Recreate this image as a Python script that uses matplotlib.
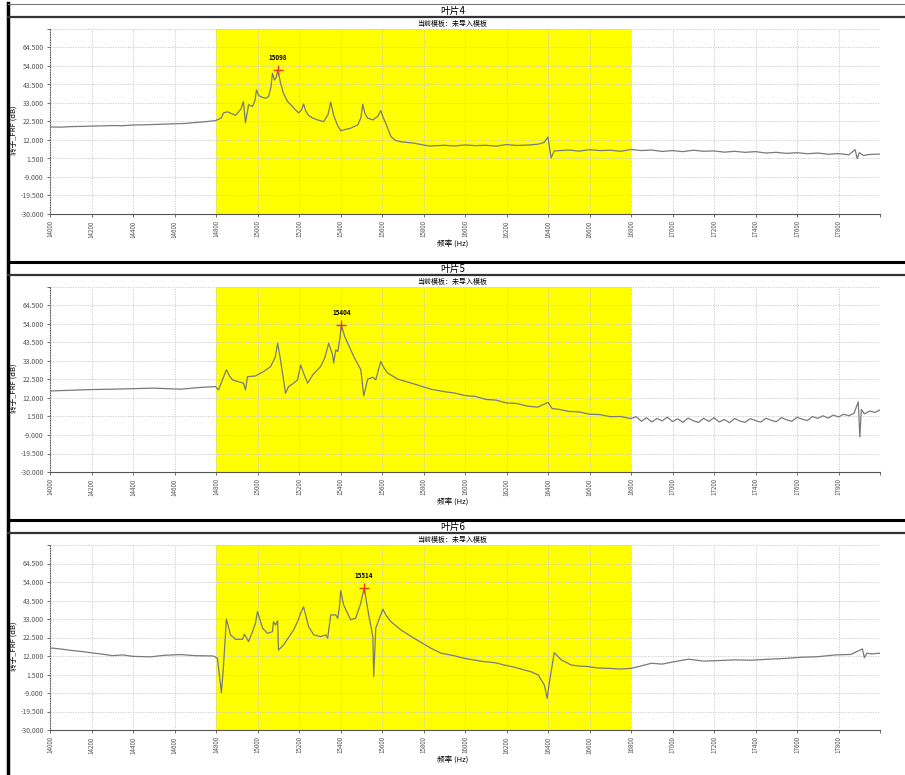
import matplotlib
matplotlib.use("Agg")
import matplotlib.pyplot as plt
from matplotlib.lines import Line2D

plt.rcParams["font.family"] = ["Noto Sans CJK SC", "DejaVu Sans"]

# --- data ----------------------------------------------------------------
TITLES = ["叶片4", "叶片5", "叶片6"]
SUBTITLE = "当前模板：未导入模板"
XLABEL = "频率 (Hz)"
YLABEL = "转子_FRF (dB)"

X_TICKS = list(range(14000, 18000, 200))
Y_TICKS = [-30.0, -19.5, -9.0, 1.5, 12.0, 22.5, 33.0, 43.5, 54.0, 64.5]
BAND = (14800, 16800)

freq_4 = [14000, 14050, 14100, 14150, 14200, 14250, 14300, 14350, 14400, 14450,
          14500, 14550, 14600, 14650, 14700, 14750, 14797, 14826,
          14836, 14855, 14894, 14920, 14932, 14942, 14957, 14976, 14988, 14995,
          15005, 15014, 15039, 15053, 15065, 15072, 15082, 15090, 15098, 15111,
          15125, 15145, 15165, 15184, 15198, 15212, 15222, 15232, 15246, 15265,
          15290, 15319, 15340, 15353, 15367, 15385, 15401, 15449, 15483, 15498,
          15507, 15518, 15531, 15556, 15580, 15594, 15605, 15618, 15643, 15665,
          15691, 15754, 15826, 15900, 15950, 16000, 16050,
          16100, 16150, 16200, 16250, 16300, 16350, 16380, 16400, 16415, 16430,
          16500, 16550, 16600, 16650, 16700, 16750, 16800, 16850, 16900, 16950,
          17000, 17050, 17100, 17150, 17200, 17250, 17300, 17350, 17400, 17450,
          17500, 17550, 17600, 17650, 17700, 17750, 17800, 17850, 17880, 17890,
          17900, 17920, 17950, 18000]
db_4 = [19.4, 19.3, 19.6, 19.7, 19.9, 20.0, 20.2, 20.1, 20.5, 20.6,
        20.8, 21.0, 21.2, 21.4, 21.9, 22.4, 23.0, 24.5,
        27.4, 28.0, 26.0, 29.5, 33.8, 21.7, 32.0, 31.0, 34.5, 40.4,
        37.5, 36.6, 35.7, 36.6, 42.0, 49.9, 46.0, 47.5, 51.8, 44.4,
        38.5, 33.8, 31.5, 29.0, 27.4, 29.0, 32.5, 28.5, 26.0, 24.5,
        23.4, 22.4, 26.5, 33.5, 26.0, 20.5, 17.3, 18.7, 20.6, 24.5,
        32.3, 27.0, 24.4, 23.4, 25.5, 28.7, 25.0, 21.5, 13.9, 11.8,
        11.0, 10.2, 8.6, 9.0, 8.6, 9.2, 8.8,
        9.0, 8.5, 9.4, 8.9, 9.1, 9.6, 10.5, 13.7, 1.8, 5.8,
        6.3, 5.7, 6.5, 6.0, 6.2, 5.6, 6.6, 6.0, 6.3, 5.5,
        6.0, 5.4, 6.2, 5.6, 5.8, 5.1, 5.6, 5.0, 5.4, 4.6,
        5.0, 4.4, 4.8, 4.2, 4.6, 3.9, 4.3, 3.6, 6.5, 1.5,
        4.8, 3.2, 3.8, 4.0]

freq_5 = [14000, 14100, 14200, 14300, 14400, 14500, 14628, 14725, 14797, 14812,
          14830, 14850, 14865, 14879, 14932, 14942, 14952, 14990, 15029, 15063,
          15085, 15097, 15111, 15135, 15150, 15174, 15193, 15208, 15222, 15242,
          15266, 15304, 15325, 15343, 15362, 15367, 15377, 15387, 15396, 15404,
          15420, 15435, 15464, 15498, 15512, 15531, 15556, 15570, 15594, 15610,
          15628, 15676, 15754, 15836, 15900, 15950, 16000,
          16050, 16100, 16150, 16200, 16250, 16300, 16350, 16400, 16420, 16450,
          16500, 16550, 16600, 16650, 16700, 16750, 16800, 16825, 16850, 16875,
          16900, 16925, 16950, 16975, 17000, 17025, 17050, 17075, 17100, 17125,
          17150, 17175, 17200, 17225, 17250, 17275, 17300, 17325, 17350, 17375,
          17400, 17425, 17450, 17475, 17500, 17525, 17550, 17575, 17600, 17625,
          17650, 17675, 17700, 17725, 17750, 17775, 17800, 17825, 17850, 17875,
          17895, 17903, 17910, 17925, 17950, 17975, 18000]
db_5 = [16.0, 16.4, 16.8, 17.0, 17.3, 17.6, 17.0, 18.0, 18.5, 16.6,
        22.0, 28.0, 24.5, 22.3, 20.4, 16.6, 24.1, 24.5, 27.0, 29.8,
        35.0, 43.1, 33.6, 14.7, 18.5, 20.4, 22.3, 30.8, 26.1, 20.4,
        25.1, 29.8, 35.0, 43.1, 36.4, 31.7, 39.3, 38.3, 45.0, 53.5,
        47.0, 43.1, 35.5, 28.0, 13.2, 22.7, 23.8, 22.3, 32.7, 29.0,
        26.1, 22.7, 20.0, 17.0, 15.6, 14.8, 13.4,
        12.9, 11.2, 10.8, 9.2, 8.9, 7.4, 6.8, 9.5, 6.0, 5.6,
        4.4, 4.1, 2.8, 2.6, 1.4, 1.5, 0.3, 1.4, -1.2, 0.8,
        -1.6, 0.4, -1.0, 1.1, -1.4, 0.2, -1.8, 0.6, -0.9, -1.9,
        0.5, -1.3, 0.8, -1.6, -0.2, -2.0, 0.4, -1.1, -1.8, 0.3,
        -0.8, -1.7, 0.5, -0.6, -1.5, 0.9, -0.4, -1.2, 1.1, 0.0,
        -0.8, 1.5, 0.4, 1.9, 0.6, 2.3, 1.2, 2.8, 1.9, 3.4,
        9.8, -10.1, 5.5, 3.0, 4.6, 3.8, 5.2]

freq_6 = [14000, 14050, 14100, 14150, 14200, 14250, 14300, 14350, 14400, 14483,
          14550, 14628, 14700, 14787, 14807, 14826, 14836, 14850, 14870, 14894,
          14928, 14937, 14957, 14976, 14990, 15000, 15024, 15048, 15072, 15077,
          15087, 15097, 15101, 15126, 15174, 15195, 15208, 15222, 15246, 15271,
          15304, 15329, 15338, 15353, 15377, 15387, 15395, 15401, 15415, 15449,
          15473, 15498, 15514, 15536, 15556, 15560, 15570, 15604, 15620, 15643,
          15691, 15754, 15836, 15884, 15950, 15995, 16050, 16092, 16150, 16188,
          16240, 16285, 16320, 16353, 16382, 16396, 16406, 16430, 16464, 16512,
          16550, 16594, 16640, 16691, 16750, 16802, 16850, 16899, 16950, 17010,
          17077, 17150, 17222, 17300, 17380, 17464, 17540, 17623, 17700, 17783,
          17860, 17915, 17925, 17937, 17960, 18000]
db_6 = [16.6, 16.0, 15.2, 14.6, 13.8, 13.1, 12.2, 12.6, 11.8, 11.5,
        12.4, 12.8, 12.2, 12.0, 10.7, -8.9, 6.1, 33.0, 24.0, 21.5,
        21.5, 24.4, 20.2, 25.8, 30.5, 37.2, 27.8, 24.9, 25.8, 31.5,
        29.6, 32.0, 15.4, 18.3, 26.8, 32.0, 36.3, 40.0, 28.7, 24.0,
        23.0, 24.0, 22.1, 35.3, 35.3, 33.4, 40.0, 49.1, 41.0, 32.5,
        33.4, 42.0, 50.7, 35.3, 23.0, 0.3, 27.8, 38.6, 35.0, 31.5,
        26.8, 22.1, 16.4, 13.6, 12.1, 10.7, 9.6, 8.8, 8.1, 6.9,
        5.6, 4.1, 3.0, 1.2, -4.4, -12.0, -3.5, 13.9, 9.8, 6.9,
        6.3, 6.0, 5.2, 5.0, 4.6, 5.0, 6.4, 7.9, 7.4, 8.8,
        10.2, 9.1, 9.4, 9.8, 9.6, 10.2, 10.6, 11.3, 11.6, 12.6,
        12.9, 16.0, 11.0, 13.6, 13.2, 13.6]

peak_freq = [15098, 15404, 15514]
peak_db = [51.8, 53.5, 50.7]

# --- figure ---------------------------------------------------------------
W, H = 905, 775
fig = plt.figure(figsize=(W / 100, H / 100), dpi=100)


def fy(py):
  return 1 - py / H


def fx(px):
  return px / W


def hline(py, lw, color):
  fig.add_artist(Line2D([fx(8), 1], [fy(py), fy(py)], lw=lw, color=color,
                        transform=fig.transFigure))


# panel frames
fig.add_artist(Line2D([fx(7.5), fx(7.5)], [fy(3), 0], lw=2.5, color="black",
                      transform=fig.transFigure))
for top in [0, 258, 516]:
  hline(top + 4, 2.2 if top else 0.8, "black" if top else "#777777")
  hline(top + 17, 1.6, "#333333")

series = [(freq_4, db_4), (freq_5, db_5), (freq_6, db_6)]

for i, (freqs, dbs) in enumerate(series):
  off = 258 * i
  ax = fig.add_axes([fx(50), fy(214 + off), fx(830), (214 - 29) / H])
  ax.axvspan(BAND[0], BAND[1], color="#ffff00", lw=0, zorder=0)
  ax.plot(freqs, dbs, color="#7a7a7a", lw=0.9, zorder=3)
  ax.plot(peak_freq[i], peak_db[i], marker="+", color="#e8401c", ms=7,
          mew=1.0, zorder=4)
  ax.text(peak_freq[i], peak_db[i] + 5, str(peak_freq[i]), ha="center",
          va="bottom", fontsize=4.5, fontweight="bold", zorder=5)
  ax.set_xlim(14000, 18000)
  ax.set_ylim(-30, 75)
  ax.set_xticks(X_TICKS + [18000])
  ax.set_xticklabels([str(t) for t in X_TICKS] + [""], rotation=90,
                     fontsize=4.5, color="#555555")
  ax.set_yticks(Y_TICKS + [75])
  ax.set_yticklabels(["%.3f" % v for v in Y_TICKS] + [""], fontsize=5,
                     color="#555555")
  ax.grid(True, ls=(0, (1.5, 1.5)), color="#c8c8c8", lw=0.6, zorder=1)
  ax.set_axisbelow(False)
  for side in ["top", "right"]:
    ax.spines[side].set_visible(False)
  for side in ["left", "bottom"]:
    ax.spines[side].set_color("#555555")
    ax.spines[side].set_linewidth(0.8)
  ax.tick_params(length=2.5, width=0.6, color="#555555", pad=2)

  fig.text(0.5, fy(11 + off), TITLES[i], ha="center", va="center",
           fontsize=7)
  fig.text(0.5, fy(24 + off), SUBTITLE, ha="center", va="center",
           fontsize=5)
  fig.text(0.5, fy(244 + off), XLABEL, ha="center", va="center",
           fontsize=5.5)
  fig.text(fx(15), fy(130 + off), YLABEL, ha="center", va="center",
           rotation=90, fontsize=5.5)

fig.savefig("out.png", dpi=100)
